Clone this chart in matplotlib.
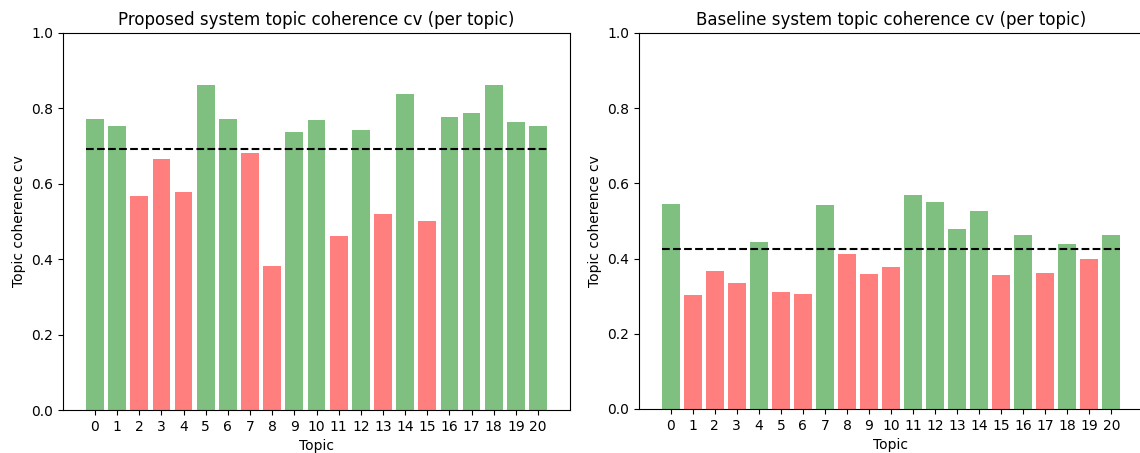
import matplotlib
matplotlib.use('Agg')
import matplotlib.pyplot as plt
import numpy as np

# per-topic coherence (cv)
topics = list(range(21))
proposed_cv = [0.773, 0.754, 0.567, 0.665, 0.578, 0.863, 0.771, 0.681, 0.383, 0.738, 0.768,
               0.461, 0.744, 0.519, 0.839, 0.500, 0.776, 0.789, 0.863, 0.765, 0.754]
baseline_cv = [0.546, 0.304, 0.366, 0.335, 0.445, 0.312, 0.307, 0.543, 0.413, 0.358, 0.377,
               0.568, 0.551, 0.478, 0.527, 0.356, 0.464, 0.361, 0.440, 0.399, 0.464]
titles = ['Proposed system topic coherence cv (per topic)',
          'Baseline system topic coherence cv (per topic)']

fig = plt.figure(figsize=(11.4, 4.53), dpi=100)
ax1 = fig.add_axes([63 / 1140, 43 / 453, 507 / 1140, 377 / 453])
ax2 = fig.add_axes([639 / 1140, 44 / 453, 504 / 1140, 376 / 453])
# the right frame of the second panel is cut off by the image edge in the original
ax2.spines['right'].set_visible(False)

width = 0.8
for ax, vals, title in zip([ax1, ax2], [proposed_cv, baseline_cv], titles):
    vals = np.array(vals)
    mean = vals.mean()
    colors = ['green' if v > mean else 'red' for v in vals]
    ax.bar(topics, vals, width=width, color=colors, alpha=0.5)
    # mean line spans from first bar's left edge to last bar's right edge
    ax.plot([topics[0] - width / 2, topics[-1] + width / 2], [mean, mean], 'k--')
    ax.set_ylim(0, 1)
    ax.set_xticks(topics)
    ax.set_title(title)
    ax.set_xlabel('Topic')
    ax.set_ylabel('Topic coherence cv')

fig.savefig('out.png', dpi=100)
